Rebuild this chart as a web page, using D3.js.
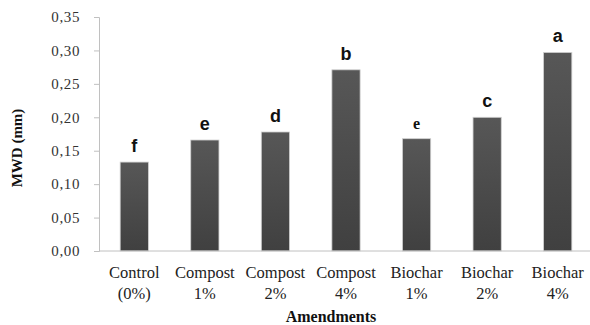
<!DOCTYPE html>
<html>
<head>
<meta charset="utf-8">
<script src="https://cdn.jsdelivr.net/npm/d3@7"></script>
<style>
  html, body { margin: 0; padding: 0; background: #fff; }
  svg { display: block; }
  .serif { font-family: "Liberation Serif", "Tinos", "DejaVu Serif", "Times New Roman", serif; }
  .sans { font-family: "Liberation Sans", Arial, sans-serif; }
</style>
</head>
<body>
<svg id="chart" width="590" height="325"></svg>
<script>
// Mean weight diameter by soil amendment
const categories = [
  ["Control", "(0%)"],
  ["Compost", "1%"],
  ["Compost", "2%"],
  ["Compost", "4%"],
  ["Biochar", "1%"],
  ["Biochar", "2%"],
  ["Biochar", "4%"]
];
const mwd = [0.133, 0.166, 0.178, 0.271, 0.168, 0.200, 0.297];
const groups = ["f", "e", "d", "b", "e", "c", "a"];
const groupSerif = [false, false, false, false, true, false, false];
const yTicks = [0, 0.05, 0.10, 0.15, 0.20, 0.25, 0.30, 0.35];

const svg = d3.select("#chart");
const margin = { left: 99, right: -3, top: 17, bottom: 74 };
const W = 590, H = 325;

const x = d3.scaleBand()
  .domain(d3.range(categories.length))
  .range([margin.left, W - margin.right])
  .paddingInner(0.6)
  .paddingOuter(0.3);

const y = d3.scaleLinear()
  .domain([0, 0.35])
  .range([H - margin.bottom, margin.top]);

// bar gradient
const defs = svg.append("defs");
const grad = defs.append("linearGradient")
  .attr("id", "barGrad").attr("x1", 0).attr("y1", 0).attr("x2", 0).attr("y2", 1);
grad.append("stop").attr("offset", "0%").attr("stop-color", "#575757");
grad.append("stop").attr("offset", "100%").attr("stop-color", "#404040");

// y axis
const yAxis = svg.append("g")
  .attr("transform", `translate(${margin.left},0)`)
  .call(d3.axisLeft(y).tickValues(yTicks).tickSize(5).tickPadding(14)
    .tickFormat(d => d3.format(".2f")(d).replace(".", ",")));
yAxis.attr("font-family", null).attr("font-size", null);
yAxis.select(".domain").attr("stroke", "#c0c0c0");
yAxis.selectAll(".tick line").attr("stroke", "#c0c0c0");
yAxis.selectAll(".tick text")
  .attr("class", "serif").style("font-size", "15px").style("letter-spacing", "0.6px")
  .attr("fill", "#333");

// bars
svg.append("g").selectAll("rect")
  .data(mwd)
  .join("rect")
  .attr("x", (d, i) => x(i))
  .attr("y", d => y(d))
  .attr("width", x.bandwidth())
  .attr("height", d => y(0) - y(d))
  .attr("fill", "url(#barGrad)")
  .attr("stroke", "#d0d0d0")
  .attr("stroke-width", 0.8);

// x axis baseline
svg.append("line")
  .attr("x1", margin.left).attr("x2", W)
  .attr("y1", y(0)).attr("y2", y(0))
  .attr("stroke", "#c0c0c0").attr("stroke-width", 1);

// significance letters
svg.append("g").selectAll("text")
  .data(mwd)
  .join("text")
  .attr("class", (d, i) => groupSerif[i] ? "serif" : "sans")
  .attr("x", (d, i) => x(i) + x.bandwidth() / 2)
  .attr("y", d => y(d) - 10)
  .attr("text-anchor", "middle")
  .style("font-weight", "bold")
  .style("font-size", (d, i) => groupSerif[i] ? "16px" : "18px")
  .attr("fill", "#111")
  .text((d, i) => groups[i]);

// category labels
const cat = svg.append("g").selectAll("text")
  .data(categories)
  .join("text")
  .attr("class", "serif")
  .attr("x", (d, i) => x(i) + x.bandwidth() / 2)
  .attr("y", 278)
  .attr("text-anchor", "middle")
  .style("font-size", "16.5px")
  .attr("fill", "#222");
cat.append("tspan").text(d => d[0]);
cat.append("tspan")
  .attr("x", (d, i) => x(i) + x.bandwidth() / 2)
  .attr("dy", 21)
  .text(d => d[1]);

// axis titles
svg.append("text")
  .attr("class", "serif")
  .attr("x", 331).attr("y", 322)
  .attr("text-anchor", "middle")
  .style("font-weight", "bold").style("font-size", "16px")
  .attr("fill", "#111")
  .text("Amendments");

svg.append("text")
  .attr("class", "serif")
  .attr("transform", "translate(22,148) rotate(-90)")
  .attr("text-anchor", "middle")
  .style("font-weight", "bold").style("font-size", "15px")
  .attr("fill", "#111")
  .text("MWD (mm)");
</script>
</body>
</html>
